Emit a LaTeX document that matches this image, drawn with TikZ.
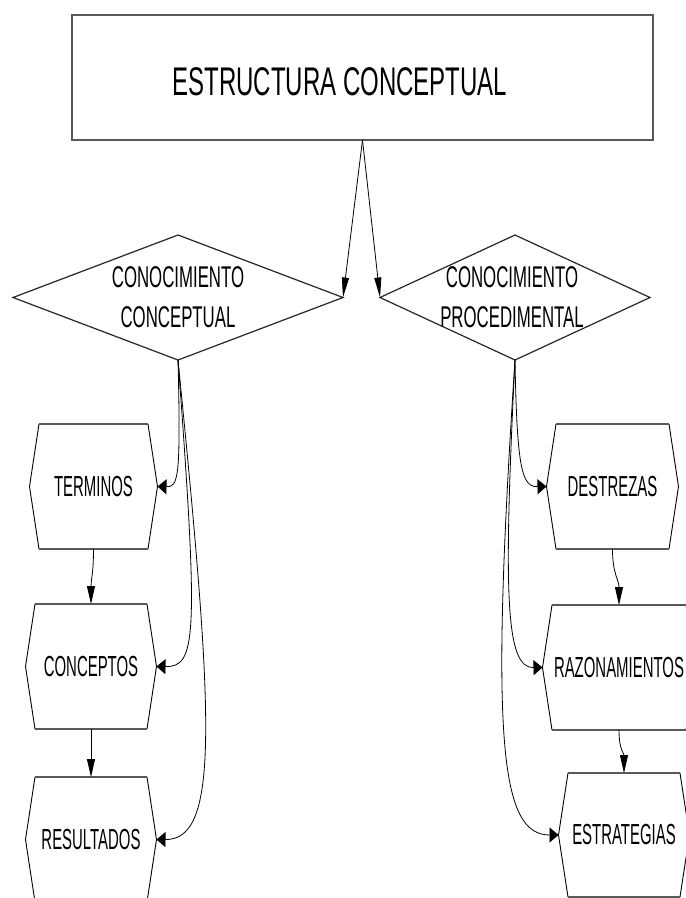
\documentclass[tikz,border=0pt]{standalone}
\usepackage{fontspec}
\usetikzlibrary{shapes.geometric,arrows.meta}
% condensed sans faces for the labels
\newfontfamily\titlefont[FakeStretch=0.60]{Liberation Sans}
\newfontfamily\diafont[FakeStretch=0.56]{Liberation Sans}
\newfontfamily\hexfont[FakeStretch=0.515]{Liberation Sans}

% outline of a flat hexagon drawn around a rectangular body node,
% with tip coordinates <name>-l and <name>-r
\newcommand{\hexoutline}[1]{%
  \coordinate (#1-l) at ([xshift=-9.5pt]#1.west);
  \coordinate (#1-r) at ([xshift=9.5pt]#1.east);
  \draw[hexside] (#1.north east) -- (#1-r) -- (#1.south east)
                 (#1.south west) -- (#1-l) -- (#1.north west);
  \draw[hexedge] (#1.north west) -- (#1.north east)
                 (#1.south west) -- (#1.south east);
}

\begin{document}
\begin{tikzpicture}[x=1pt,y=-1pt,
  topbox/.style={draw=black!65, line width=1.8pt, minimum width=581pt,
    minimum height=125pt, inner sep=0pt, outer sep=0pt},
  titletext/.style={font=\titlefont\fontsize{40}{46}\selectfont, inner sep=0pt},
  dia/.style={diamond, draw=black!85, line width=1.2pt, inner sep=0pt,
    outer sep=0pt, minimum height=125pt},
  diatext/.style={font=\diafont\fontsize{30}{40}\selectfont, align=center,
    inner sep=0pt},
  hexbody/.style={minimum height=125pt, inner sep=0pt, outer sep=0pt,
    font=\hexfont\fontsize{29}{34}\selectfont},
  hexside/.style={draw=black, line width=0.9pt, line join=miter},
  hexedge/.style={draw=black!65, line width=2.3pt},
  conn/.style={draw=black, line width=0.8pt},
  downarrow/.style={conn, -{Triangle[length=18pt,width=8pt]}},
  sidearrow/.style={conn, -{Triangle[length=9pt,width=15pt]}},
  toparrow/.style={conn, -{Triangle[length=20pt,width=7pt]}}]

\useasboundingbox[fill=white] (0,0) rectangle (686,898);

% heading
\node[topbox] (top) at (362.5,77.5) {};
\node[titletext] (title) at (340,82) {ESTRUCTURA CONCEPTUAL};

% the two kinds of knowledge
\node[dia, minimum width=330pt] (d1) at (178,297.5) {};
\node[diatext] (d1t) at (178,297) {CONOCIMIENTO\\CONCEPTUAL};
\node[dia, minimum width=270pt] (d2) at (515,297.5) {};
\node[diatext] (d2t) at (512,297) {CONOCIMIENTO\\PROCEDIMENTAL};

% conceptual branch
\node[hexbody, minimum width=109pt] (ter) at (93.5,486.5) {TERMINOS};
\hexoutline{ter}
\node[hexbody, minimum width=112pt] (con) at (91,666.5) {CONCEPTOS};
\hexoutline{con}
\node[hexbody, minimum width=112pt] (res) at (91,839.5) {RESULTADOS};
\hexoutline{res}

% procedural branch
\node[hexbody, minimum width=113pt] (des) at (612.5,486.5) {DESTREZAS};
\hexoutline{des}
\node[hexbody, minimum width=134pt] (raz) at (619,667.5) {RAZONAMIENTOS};
\hexoutline{raz}
\node[hexbody, minimum width=112pt, minimum height=124pt] (est) at (624,835) {ESTRATEGIAS};
\hexoutline{est}

% connectors from the heading
\draw[toparrow] (top.south) -- (d1.east);
\draw[toparrow] (top.south) -- (d2.west);

% conceptual knowledge to its items
\draw[sidearrow] (d1.south) .. controls (181,480) and (178,487) .. (ter-r);
\draw[sidearrow] (d1.south) .. controls (199,640) and (196,667) .. (con-r);
\draw[sidearrow] (d1.south) .. controls (214,720) and (220,840) .. (res-r);
\draw[downarrow] (ter.south) .. controls +(0,25) and +(0,-25) .. (con.north);
\draw[downarrow] (con.south) -- (res.north);

% procedural knowledge to its items
\draw[sidearrow] (d2.south) .. controls (517,470) and (522,487) .. (des-l);
\draw[sidearrow] (d2.south) .. controls (503,600) and (506,668) .. (raz-l);
\draw[sidearrow] (d2.south) .. controls (490,740) and (500,835) .. (est-l);
\draw[downarrow] (des.south) .. controls +(0,25) and +(0,-25) .. (raz.north);
\draw[downarrow] (raz.south) .. controls +(0,20) and +(0,-20) .. (est.north);

\end{tikzpicture}
\end{document}
